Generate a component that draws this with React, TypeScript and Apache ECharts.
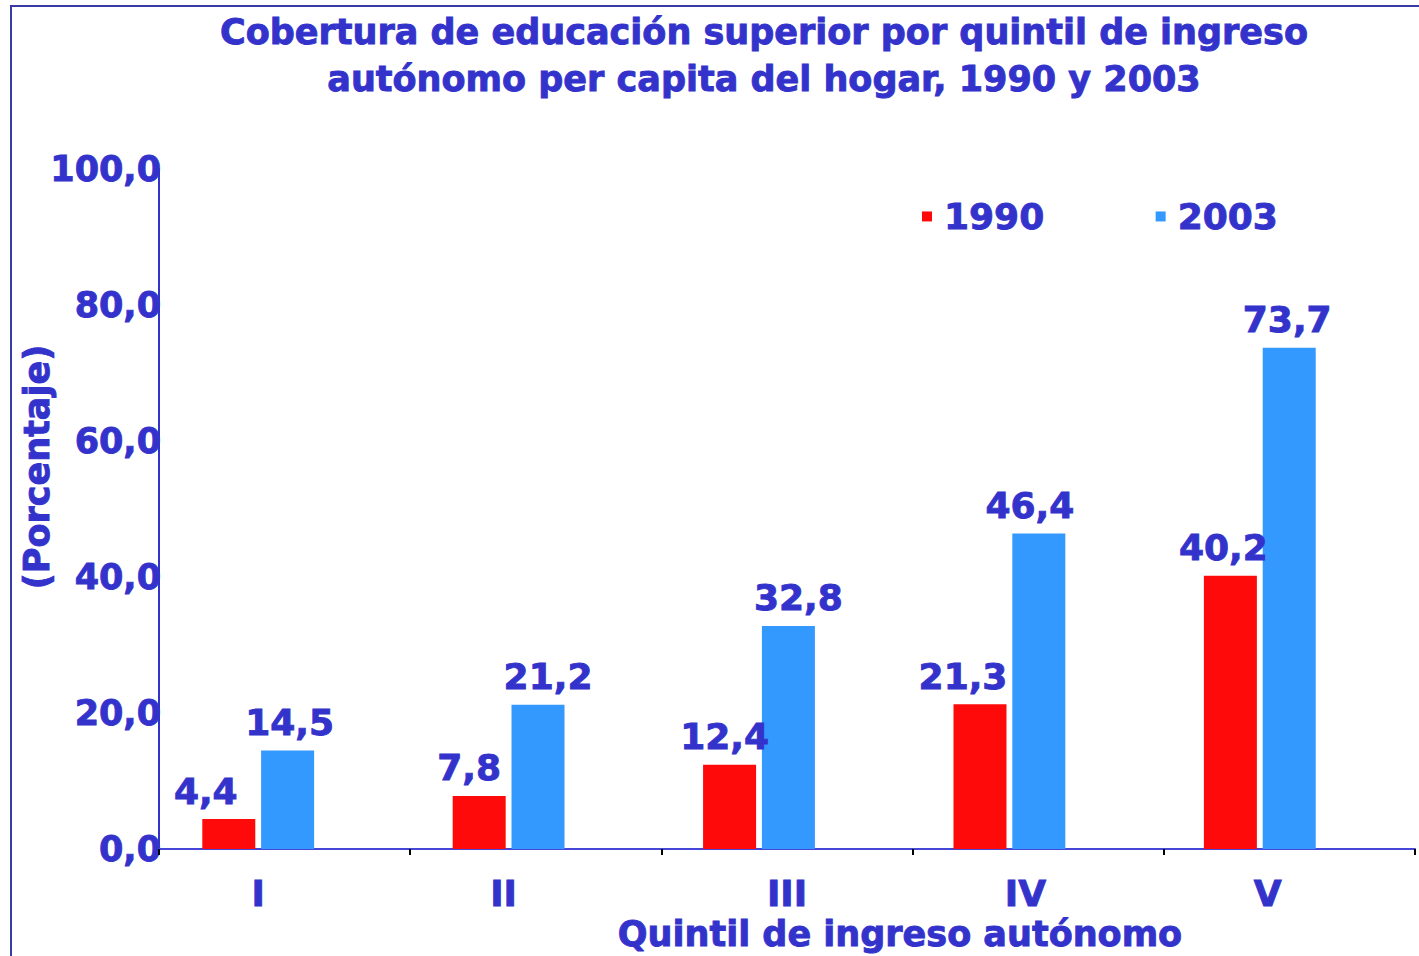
import React, { useEffect, useRef } from 'react';
import * as echarts from 'echarts';

const categories = ['I', 'II', 'III', 'IV', 'V'];
const seriesNames = ['1990', '2003'];
const values1990 = [4.4, 7.8, 12.4, 21.3, 40.2];
const values2003 = [14.5, 21.2, 32.8, 46.4, 73.7];
const yMin = 0;
const yMax = 100;
const yStep = 20;

const titleText = 'Cobertura de educación superior por quintil de ingreso\nautónomo per capita del hogar, 1990 y 2003';
const xAxisTitle = 'Quintil de ingreso autónomo';
const yAxisTitle = '(Porcentaje)';

// horizontal nudges (px) for category labels and value labels, as in the reference
const labelShift = [0, -5, 28, 16, 8];
const valueLabelShift1990 = [-23, -10, -5, -17, -7];
const valueLabelShift2003 = [2, 10, 10, -9, -2];

const TEXT = '#3333cc';
const FONT = '"DejaVu Sans", Verdana, sans-serif';
const fmt = (v: number) => v.toFixed(1).replace('.', ',');
const heavy = { textBorderColor: TEXT, textBorderWidth: 0.9 };

export default function App() {
  const ref = useRef<HTMLDivElement>(null);
  useEffect(() => {
    if (!ref.current) return;
    const chart = echarts.init(ref.current, null, { renderer: 'svg' });
    const catData = categories.map((c, i) => {
      const s = labelShift[i];
      return {
        value: c,
        textStyle: { padding: s >= 0 ? [0, 0, 0, 2 * s] : [0, -2 * s, 0, 0] },
      };
    });
    const withShift = (vals: number[], shifts: number[]) =>
      vals.map((v, i) => ({ value: v, label: { offset: [shifts[i], 0] } }));
    const labelCfg = {
      show: true,
      position: 'top',
      distance: 10,
      color: TEXT,
      fontSize: 36,
      fontWeight: 'bold',
      formatter: (p: any) => fmt(p.value),
      fontFamily: FONT,
      ...heavy,
    };
    chart.setOption({
      animation: false,
      backgroundColor: '#ffffff',
      textStyle: { fontFamily: FONT },
      title: {
        text: titleText,
        left: 759,
        top: 3,
        textAlign: 'center',
        textStyle: { color: TEXT, fontSize: 35, fontWeight: 'bold', lineHeight: 47, fontFamily: FONT, ...heavy },
      },
      legend: {
        data: seriesNames,
        left: 922,
        top: 198,
        padding: 0,
        icon: 'rect',
        itemWidth: 10,
        itemHeight: 10,
        itemGap: 111,
        textStyle: { color: TEXT, fontSize: 36, fontWeight: 'bold', lineHeight: 36, padding: [0, 0, 0, 7], fontFamily: FONT, ...heavy },
      },
      graphic: [
        {
          type: 'rect',
          shape: { x: 11, y: 6, width: 1500, height: 1100 },
          style: { fill: 'none', stroke: '#3a3aa6', lineWidth: 2 },
          silent: true,
          z: 0,
        },
      ],
      grid: [
        { left: 159, right: 4, top: 169, bottom: 107, containLabel: false, outerBoundsMode: 'none' },
        { left: 133, right: 34, top: 169, bottom: 107, containLabel: false, outerBoundsMode: 'none' },
      ],
      xAxis: [
        {
          type: 'category',
          gridIndex: 0,
          data: categories,
          axisLine: { lineStyle: { color: '#4646d8', width: 2 } },
          axisTick: { show: true, length: 6, lineStyle: { color: '#000000', width: 2 } },
          axisLabel: { show: false },
          z: 1,
        },
        {
          type: 'category',
          gridIndex: 1,
          data: catData,
          axisLine: { show: false },
          axisTick: { show: false },
          axisLabel: { color: TEXT, fontSize: 36, fontWeight: 'bold', margin: 26, fontFamily: FONT, ...heavy },
          name: xAxisTitle,
          nameLocation: 'middle',
          nameGap: 67,
          nameMoveOverlap: false,
          nameTextStyle: { color: TEXT, fontSize: 35, fontWeight: 'bold', padding: [0, 0, 0, 282], fontFamily: FONT, ...heavy },
        },
      ],
      yAxis: [
        {
          type: 'value',
          gridIndex: 0,
          min: yMin,
          max: yMax,
          interval: yStep,
          axisLine: { show: true, lineStyle: { color: '#3333cc', width: 2 } },
          axisTick: { show: false },
          splitLine: { show: false },
          axisLabel: { color: TEXT, fontSize: 35, fontWeight: 'bold', margin: -2, formatter: (v: number) => fmt(v), fontFamily: FONT, ...heavy },
          name: yAxisTitle,
          nameLocation: 'middle',
          nameGap: 105,
          nameRotate: 90,
          nameMoveOverlap: false,
          nameTextStyle: { color: TEXT, fontSize: 35, fontWeight: 'bold', padding: [0, 0, 0, 84], fontFamily: FONT, ...heavy },
        },
        {
          type: 'value',
          gridIndex: 1,
          min: yMin,
          max: yMax,
          interval: yStep,
          show: false,
        },
      ],
      series: [
        {
          name: seriesNames[0],
          type: 'bar',
          xAxisIndex: 1,
          yAxisIndex: 1,
          data: withShift(values1990, valueLabelShift1990),
          barWidth: 53,
          barGap: '11%',
          itemStyle: { color: '#ff0a0a' },
          label: labelCfg,
          z: 3,
        },
        {
          name: seriesNames[1],
          type: 'bar',
          xAxisIndex: 1,
          yAxisIndex: 1,
          data: withShift(values2003, valueLabelShift2003),
          barWidth: 53,
          barGap: '11%',
          itemStyle: { color: '#3399ff' },
          label: labelCfg,
          z: 3,
        },
      ],
    });
    return () => chart.dispose();
  }, []);
  return <div ref={ref} style={{ position: 'fixed', left: 0, top: 0, width: 1419, height: 956 }} />;
}
